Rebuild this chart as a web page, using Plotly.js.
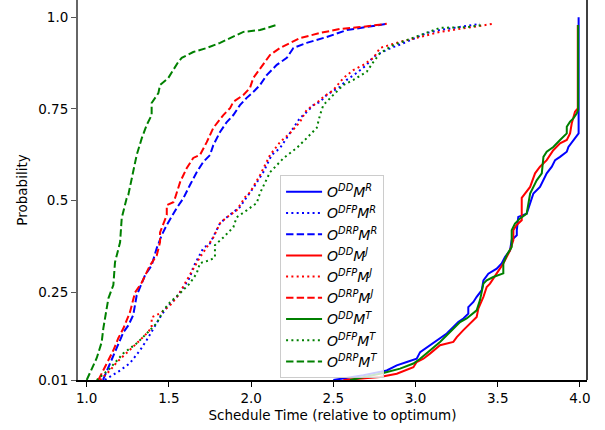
<!DOCTYPE html>
<html>
<head>
<meta charset="utf-8">
<script src="https://cdn.plot.ly/plotly-3.0.1.min.js"></script>
<style>html,body{margin:0;padding:0;background:#fff;}#chart{width:605px;height:430px;}</style>
</head>
<body>
<div id="chart"></div>
<script>
// ---- data ----
var ddR_x = [2.50,2.683,2.825,2.886,2.947,3.007,3.028,3.088,3.129,3.190,3.230,3.260,3.291,3.321,3.321,3.352,3.372,3.403,3.413,3.443,3.494,3.524,3.545,3.575,3.585,3.616,3.616,3.625,3.676,3.697,3.717,3.757,3.778,3.798,3.829,3.849,3.879,3.920,3.930,3.960,3.992,3.992,3.992];
var ddR_y = [0.01,0.023,0.036,0.050,0.059,0.068,0.086,0.105,0.118,0.137,0.155,0.168,0.178,0.191,0.209,0.223,0.237,0.255,0.282,0.300,0.314,0.328,0.346,0.364,0.392,0.405,0.419,0.455,0.464,0.492,0.519,0.537,0.555,0.574,0.592,0.610,0.619,0.633,0.646,0.665,0.683,0.747,1.0];

var dfpR_x = [1.11,1.203,1.263,1.324,1.365,1.405,1.446,1.487,1.547,1.588,1.628,1.648,1.679,1.709,1.750,1.780,1.811,1.852,1.892,1.932,1.973,2.013,2.074,2.125,2.176,2.217,2.257,2.297,2.338,2.378,2.419,2.460,2.541,2.582,2.642,2.703,2.744,2.825,2.947,3.068,3.149,3.271,3.392];
var dfpR_y = [0.01,0.036,0.056,0.091,0.119,0.151,0.181,0.208,0.236,0.263,0.290,0.318,0.345,0.370,0.383,0.411,0.438,0.454,0.468,0.482,0.509,0.534,0.577,0.624,0.643,0.670,0.698,0.725,0.741,0.760,0.769,0.788,0.810,0.829,0.848,0.870,0.892,0.911,0.933,0.957,0.965,0.973,0.982];

var drpR_x = [1.099,1.162,1.223,1.253,1.283,1.304,1.335,1.355,1.395,1.426,1.456,1.487,1.547,1.588,1.628,1.669,1.709,1.750,1.770,1.811,1.852,1.892,1.932,1.973,2.013,2.054,2.095,2.156,2.217,2.257,2.338,2.460,2.582,2.703,2.825];
var drpR_y = [0.01,0.077,0.140,0.159,0.187,0.241,0.277,0.296,0.323,0.370,0.405,0.433,0.479,0.506,0.542,0.577,0.605,0.624,0.651,0.687,0.714,0.733,0.760,0.780,0.796,0.815,0.842,0.870,0.889,0.916,0.930,0.946,0.965,0.973,0.982];

var ddJ_x = [2.561,2.784,2.886,2.987,3.007,3.048,3.088,3.149,3.230,3.251,3.291,3.332,3.372,3.382,3.413,3.433,3.453,3.494,3.534,3.555,3.575,3.595,3.595,3.615,3.646,3.646,3.697,3.727,3.757,3.798,3.838,3.879,3.920,3.940,3.950,3.970,3.987,3.987];
var ddJ_y = [0.01,0.018,0.027,0.045,0.059,0.068,0.082,0.105,0.114,0.127,0.146,0.164,0.182,0.205,0.237,0.264,0.273,0.301,0.328,0.346,0.364,0.392,0.419,0.433,0.446,0.507,0.537,0.574,0.592,0.610,0.637,0.656,0.665,0.683,0.710,0.742,0.751,0.979];

var dfpJ_x = [1.081,1.142,1.182,1.243,1.304,1.365,1.395,1.395,1.446,1.507,1.557,1.608,1.648,1.689,1.730,1.770,1.811,1.852,1.912,1.963,1.993,2.054,2.115,2.176,2.237,2.297,2.338,2.399,2.439,2.500,2.561,2.622,2.683,2.744,2.784,2.906,3.028,3.149,3.312,3.473];
var dfpJ_y = [0.01,0.036,0.058,0.083,0.110,0.137,0.153,0.181,0.192,0.214,0.241,0.282,0.315,0.345,0.372,0.399,0.438,0.454,0.473,0.509,0.522,0.569,0.624,0.659,0.684,0.714,0.747,0.766,0.782,0.801,0.834,0.856,0.870,0.889,0.916,0.933,0.946,0.960,0.971,0.982];

var drpJ_x = [1.071,1.162,1.192,1.223,1.263,1.283,1.294,1.335,1.355,1.385,1.426,1.446,1.446,1.487,1.487,1.527,1.537,1.568,1.608,1.648,1.689,1.730,1.770,1.831,1.872,1.892,1.953,1.993,2.013,2.074,2.115,2.176,2.297,2.419,2.541,2.662,2.825];
var drpJ_y = [0.01,0.091,0.124,0.151,0.195,0.233,0.249,0.276,0.295,0.323,0.350,0.386,0.413,0.460,0.487,0.495,0.506,0.550,0.588,0.616,0.624,0.659,0.698,0.733,0.752,0.769,0.788,0.807,0.834,0.870,0.897,0.916,0.943,0.957,0.968,0.973,0.982];

var ddT_x = [2.602,2.804,2.906,2.987,3.028,3.088,3.149,3.210,3.271,3.311,3.372,3.392,3.413,3.433,3.473,3.534,3.534,3.555,3.585,3.585,3.605,3.636,3.676,3.697,3.717,3.737,3.768,3.778,3.798,3.838,3.879,3.920,3.920,3.940,3.960,3.981,3.989,3.989];
var ddT_y = [0.01,0.029,0.041,0.055,0.068,0.091,0.114,0.141,0.168,0.178,0.200,0.228,0.273,0.282,0.291,0.301,0.328,0.351,0.373,0.419,0.437,0.451,0.464,0.519,0.537,0.555,0.574,0.619,0.633,0.646,0.665,0.683,0.701,0.715,0.724,0.738,0.747,0.979];

var dfpT_x = [1.061,1.142,1.223,1.304,1.365,1.426,1.466,1.507,1.568,1.628,1.669,1.689,1.750,1.780,1.780,1.831,1.892,1.912,1.973,2.034,2.054,2.115,2.196,2.277,2.338,2.399,2.419,2.439,2.500,2.561,2.622,2.703,2.744,2.784,2.865,2.947,3.068,3.149,3.312,3.412];
var dfpT_y = [0.01,0.042,0.083,0.110,0.137,0.165,0.200,0.222,0.247,0.274,0.301,0.329,0.337,0.345,0.378,0.399,0.427,0.454,0.473,0.493,0.520,0.577,0.615,0.643,0.670,0.698,0.733,0.760,0.788,0.815,0.829,0.851,0.878,0.902,0.924,0.938,0.957,0.971,0.973,0.979];

var drpT_x = [1.00,1.061,1.091,1.101,1.132,1.162,1.172,1.203,1.213,1.243,1.253,1.283,1.304,1.335,1.365,1.395,1.395,1.436,1.446,1.496,1.527,1.557,1.578,1.648,1.730,1.811,1.872,1.953,2.054,2.156];
var drpT_y = [0.01,0.070,0.113,0.151,0.233,0.269,0.331,0.386,0.452,0.506,0.515,0.577,0.624,0.670,0.706,0.733,0.766,0.793,0.815,0.834,0.856,0.878,0.889,0.905,0.916,0.930,0.943,0.960,0.965,0.979];

var xTickVals = [1.0,1.5,2.0,2.5,3.0,3.5,4.0];
var xTickText = ['1.0','1.5','2.0','2.5','3.0','3.5','4.0'];
var yTickVals = [0.01,0.25,0.5,0.75,1.0];
var yTickText = ['0.01','0.25','0.5','0.75','1.0'];

function lbl(o, m){ return '<i>O</i><sup><i>'+o+'</i></sup><i>M</i><sup><i>'+m+'</i></sup>'; }

var SOLID = 'solid', DOT = '2px,3.3px', DASH = '7.4px,3.2px';
var BLUE = '#0000ff', RED = '#ff0000', GREEN = '#008000';

var series = [
  [ddR_x, ddR_y, lbl('DD','R'), BLUE, SOLID],
  [dfpR_x, dfpR_y, lbl('DFP','R'), BLUE, DOT],
  [drpR_x, drpR_y, lbl('DRP','R'), BLUE, DASH],
  [ddJ_x, ddJ_y, lbl('DD','J'), RED, SOLID],
  [dfpJ_x, dfpJ_y, lbl('DFP','J'), RED, DOT],
  [drpJ_x, drpJ_y, lbl('DRP','J'), RED, DASH],
  [ddT_x, ddT_y, lbl('DD','T'), GREEN, SOLID],
  [dfpT_x, dfpT_y, lbl('DFP','T'), GREEN, DOT],
  [drpT_x, drpT_y, lbl('DRP','T'), GREEN, DASH]
];

var traces = series.map(function(s){
  return {x: s[0], y: s[1], name: s[2], type: 'scatter', mode: 'lines',
          line: {color: s[3], width: 2, dash: s[4]}, hoverinfo: 'skip'};
});

var font = 'DejaVu Sans, sans-serif';
var layout = {
  width: 605, height: 430,
  margin: {l: 78, r: 18, t: 0, b: 50},
  paper_bgcolor: '#ffffff', plot_bgcolor: '#ffffff',
  font: {family: font, size: 13.5, color: '#000'},
  showlegend: true,
  legend: {x: 0.397, y: 0.539, xanchor: 'left', yanchor: 'top',
           bgcolor: 'rgba(255,255,255,0.8)', bordercolor: '#cccccc', borderwidth: 1,
           font: {family: font, size: 14}, itemwidth: 36, tracegroupgap: 0},
  xaxis: {range: [0.947, 4.043], tickvals: xTickVals, ticktext: xTickText,
          showgrid: false, zeroline: false, showline: true, linecolor: '#000', linewidth: 1.5,
          ticks: 'outside', ticklen: 5, tickwidth: 1, tickcolor: '#000',
          tickfont: {size: 13.5, family: font},
          title: {text: 'Schedule Time (relative to optimum)', font: {size: 13.5, family: font}, standoff: 6}},
  yaxis: {range: [0.01, 1.047], tickvals: yTickVals, ticktext: yTickText,
          showgrid: false, zeroline: false, showline: true, linecolor: '#666666', linewidth: 2,
          ticks: 'outside', ticklen: 5, tickwidth: 1, tickcolor: '#555555',
          tickfont: {size: 13.5, family: font},
          title: {text: 'Probability', font: {size: 13.5, family: font}, standoff: 8}},
  shapes: [{type: 'line', xref: 'paper', yref: 'paper', x0: 1, x1: 1, y0: 0, y1: 1,
            line: {color: '#000', width: 1.5}}]
};

Plotly.newPlot('chart', traces, layout, {displayModeBar: false, staticPlot: true});
</script>
</body>
</html>
